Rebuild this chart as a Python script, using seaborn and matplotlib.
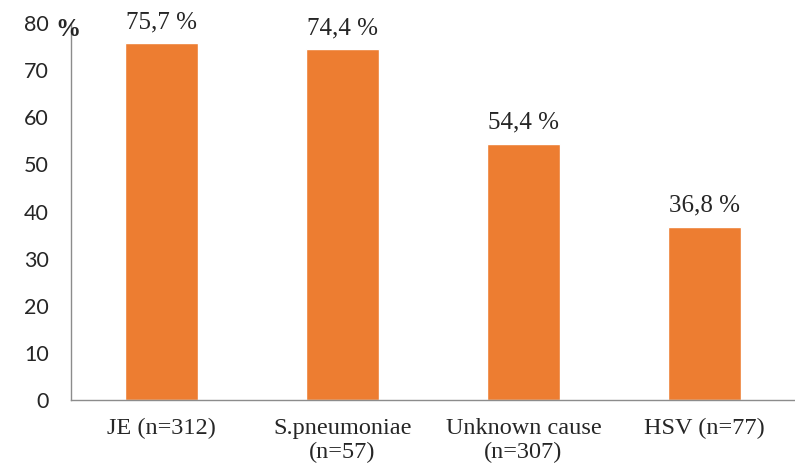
import matplotlib
matplotlib.use("Agg")
import matplotlib.pyplot as plt
import seaborn as sns
import pandas as pd

# data
categories = ["JE (n=312)", "S.pneumoniae\n(n=57)", "Unknown cause\n(n=307)", "HSV (n=77)"]
values = [75.7, 74.4, 54.4, 36.8]
value_labels = ["75,7 %", "74,4 %", "54,4 %", "36,8 %"]
yticks = [0, 10, 20, 30, 40, 50, 60, 70, 80]

df = pd.DataFrame({"cause": categories, "pct": values})

sns.set_style("white")
fig = plt.figure(figsize=(7.95, 4.7), dpi=100)
ax = fig.add_axes([71 / 795, 1 - 400 / 470, 1 - 71 / 795, (400 - 23) / 470])

sns.barplot(data=df, x="cause", y="pct", color="#ED7D31", saturation=1, width=0.4, ax=ax)

ax.set_xlim(-0.5, 3.5)
ax.set_ylim(0, 80)
ax.set_yticks(yticks)
ax.set_xlabel("")
ax.set_ylabel("")

for s in ["top", "right"]:
    ax.spines[s].set_visible(False)
for s in ["left", "bottom"]:
    ax.spines[s].set_color("#8c8c8c")
    ax.spines[s].set_linewidth(1)

ax.tick_params(axis="y", length=6, color="#8c8c8c", labelsize=15.5, pad=10)
for lab in ax.get_yticklabels():
    lab.set_fontfamily("Lato")

# category boundary ticks on the x axis
ax.set_xticks([-0.5, 0.5, 1.5, 2.5, 3.5], minor=True)
ax.tick_params(axis="x", which="minor", length=6, color="#8c8c8c")
ax.tick_params(axis="x", which="major", length=0, labelsize=17.5, pad=13)
for lab in ax.get_xticklabels():
    lab.set_fontfamily("Liberation Serif")
    lab.set_linespacing(1.2)

for i, (v, t) in enumerate(zip(values, value_labels)):
    ax.annotate(t, (i, v), xytext=(0, 11), textcoords="offset points",
                ha="center", va="baseline", fontsize=18, family="Liberation Serif")

fig.text(55 / 795, 1 - 30 / 470, "%", fontsize=18, fontweight="bold",
         family="Liberation Serif", va="center", ha="left")

fig.savefig("out.png", dpi=100)
